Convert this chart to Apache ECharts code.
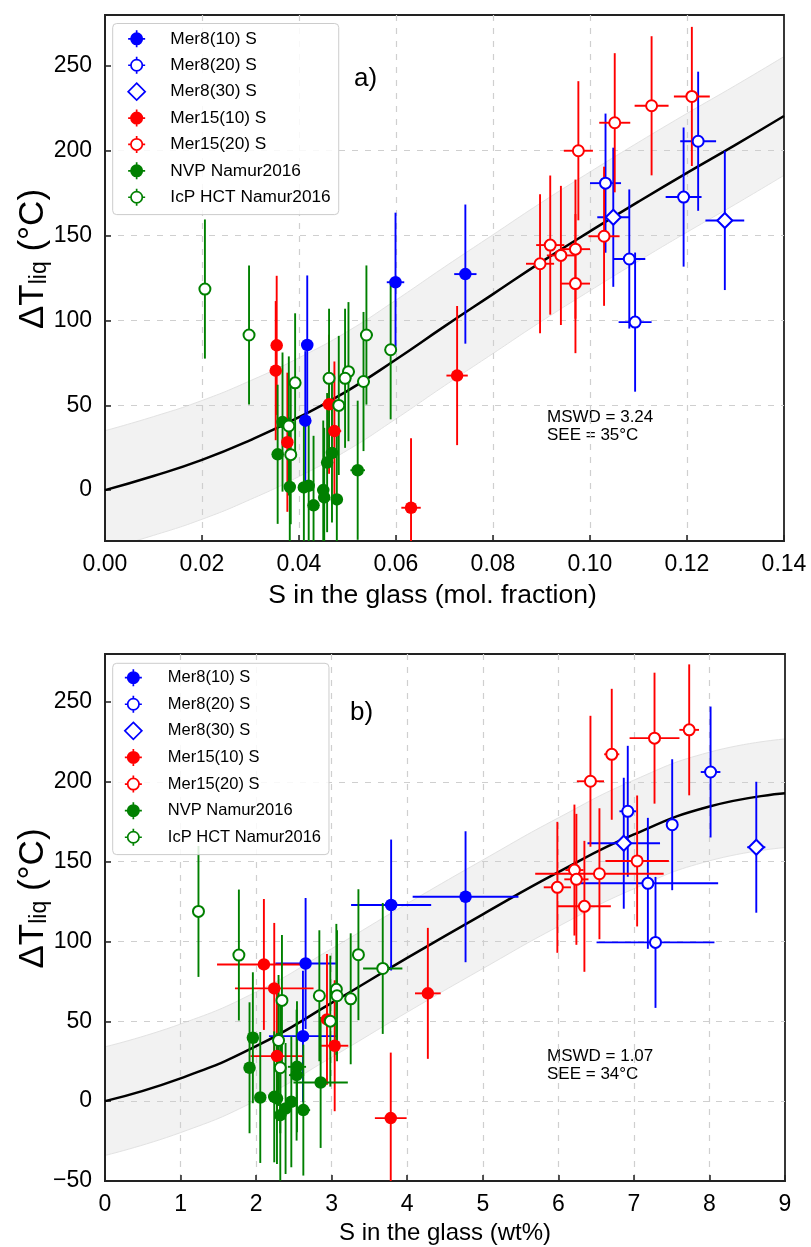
<!DOCTYPE html>
<html><head><meta charset="utf-8">
<script src="https://cdn.jsdelivr.net/npm/echarts@6/dist/echarts.min.js"></script>
<style>html,body{margin:0;padding:0;background:#fff}#c{width:811px;height:1247px}</style>
</head><body><div id="c"></div>
<script>
// ---------- Panel a (S in mol. fraction) : rows [x, y, xErr, yErr] ----------
const a_mer8_10  = [[0.0417,85.5,0.0012,41],[0.0413,40.9,0.0012,41],[0.0599,122.5,0.0018,41],[0.0743,127.3,0.0023,41]];
const a_mer8_20  = [[0.1032,180.9,0.0032,41],[0.1081,136.2,0.0033,41],[0.1093,99.0,0.0034,41],[0.1193,172.7,0.0037,41],[0.1223,205.6,0.0037,41]];
const a_mer8_30  = [[0.1048,160.8,0.0033,41],[0.1278,158.9,0.0040,41]];
const a_mer15_10 = [[0.0354,85.3,0.0011,41],[0.0352,70.4,0.0011,41],[0.0462,50.6,0.0014,41],[0.0473,34.8,0.0014,41],[0.0376,28.2,0.0011,41],[0.0631,-10.4,0.0020,41],[0.0726,67.5,0.0022,41]];
const a_mer15_20 = [[0.0897,133.4,0.0029,41],[0.0918,144.4,0.0029,41],[0.0940,138.3,0.0029,41],[0.0970,142.0,0.0030,41],[0.0970,121.7,0.0030,41],[0.0976,200.0,0.0030,41],[0.1029,149.6,0.0032,41],[0.1051,216.5,0.0032,41],[0.1127,226.5,0.0035,41],[0.1210,232.0,0.0037,41]];
const a_nvp      = [[0.0366,40.1,0.0011,41],[0.0356,21.1,0.0011,41],[0.0468,21.9,0.0012,41],[0.0458,16.2,0.0012,41],[0.0521,11.7,0.0015,41],[0.0381,1.8,0.0011,41],[0.0410,1.6,0.0011,41],[0.0420,2.5,0.0011,41],[0.0450,0.0,0.0012,41],[0.0452,-4.3,0.0012,41],[0.0478,-5.5,0.0012,41],[0.0430,-9.0,0.0011,41]];
const a_icp      = [[0.0206,118.5,0.0008,41],[0.0297,91.4,0.0010,41],[0.0392,63.2,0.0011,41],[0.0462,65.9,0.0012,41],[0.0502,69.8,0.0013,41],[0.0495,65.9,0.0013,41],[0.0533,64.0,0.0013,41],[0.0539,91.4,0.0013,41],[0.0589,82.7,0.0012,41],[0.0482,49.9,0.0012,41],[0.0379,37.8,0.0011,41],[0.0383,20.9,0.0011,41]];
const a_curve_x  = [0,0.01,0.02,0.03,0.04,0.05,0.06,0.07,0.08,0.09,0.10,0.11,0.12,0.13,0.14];
const a_curve_y  = [0,8.3,17.8,29.5,43,58.5,77,96.5,115.5,134.5,152.5,170,187,203.5,220.5];
const a_see = 35;

// ---------- Panel b (S in wt%) : rows [x, y, xErr, yErr] ----------
const b_mer8_10  = [[2.655,86.2,0.40,41],[2.620,40.7,0.45,41],[3.787,122.8,0.53,41],[4.772,128.0,0.70,41]];
const b_mer8_20  = [[6.919,181.5,0.11,41],[7.185,136.4,0.93,41],[7.286,99.4,0.78,41],[7.507,173.1,0.07,41],[8.015,206.1,0.13,41]];
const b_mer8_30  = [[6.866,161.5,0.48,41],[8.620,159.0,0.12,41]];
const b_mer15_10 = [[2.103,85.6,0.62,41],[2.240,70.6,0.52,41],[2.938,51.2,0.10,41],[3.040,34.7,0.18,41],[2.276,28.2,0.35,41],[3.782,-10.6,0.21,41],[4.273,67.5,0.17,41]];
const b_mer15_20 = [[5.987,133.9,0.18,41],[6.213,144.7,0.12,41],[6.544,142.4,0.85,41],[6.239,138.9,0.16,41],[6.345,122.0,0.35,41],[6.425,200.3,0.18,41],[6.707,217.2,0.10,41],[7.043,150.4,0.42,41],[7.273,227.3,0.33,41],[7.732,232.5,0.13,41]];
const b_nvp      = [[1.957,39.7,0.07,41],[1.913,20.9,0.06,41],[2.541,21.5,0.12,41],[2.536,16.3,0.10,41],[2.854,11.7,0.36,41],[2.055,2.3,0.06,41],[2.240,2.7,0.08,41],[2.276,1.7,0.08,41],[2.320,-8.8,0.08,41],[2.390,-4.6,0.08,41],[2.466,-0.4,0.08,41],[2.625,-5.6,0.09,41]];
const b_icp      = [[1.237,118.8,0.075,41],[1.772,91.5,0.05,41],[2.342,63.1,0.07,41],[2.837,66.0,0.07,41],[3.062,70.0,0.07,41],[3.071,66.0,0.07,41],[3.252,64.1,0.07,41],[3.354,91.7,0.07,41],[3.676,83.1,0.26,41],[2.982,50.1,0.07,41],[2.297,38.0,0.06,41],[2.320,20.9,0.06,41]];
const b_curve_x  = [0,1,2,3,4,5,6,7,8,9];
const b_curve_y  = [0,14.3,34.4,61.5,89.7,117,143.4,167,184.5,192.8];
const b_see = 34;

// ---------- tick labels / texts ----------
const a_yticks = [0,50,100,150,200,250];
const b_yticks = [-50,0,50,100,150,200,250];
const seriesNames = ['Mer8(10) S','Mer8(20) S','Mer8(30) S','Mer15(10) S','Mer15(20) S','NVP Namur2016','IcP HCT Namur2016'];

const FONT = 'Liberation Sans, Arial, Helvetica, sans-serif';
const BLUE = '#0000ff', RED = '#ff0000', GREEN = '#008000';

const kinds = [
  {color: BLUE,  open: false, symbol: 'circle'},
  {color: BLUE,  open: true,  symbol: 'circle'},
  {color: BLUE,  open: true,  symbol: 'diamond'},
  {color: RED,   open: false, symbol: 'circle'},
  {color: RED,   open: true,  symbol: 'circle'},
  {color: GREEN, open: false, symbol: 'circle'},
  {color: GREEN, open: true,  symbol: 'circle'}
];
const aSets = [a_mer8_10, a_mer8_20, a_mer8_30, a_mer15_10, a_mer15_20, a_nvp, a_icp];
const bSets = [b_mer8_10, b_mer8_20, b_mer8_30, b_mer15_10, b_mer15_20, b_nvp, b_icp];

function errRender(color) {
  return function (params, api) {
    const x = api.value(0), y = api.value(1), ex = api.value(2), ey = api.value(3);
    const h1 = api.coord([x - ex, y]), h2 = api.coord([x + ex, y]);
    const v1 = api.coord([x, y - ey]), v2 = api.coord([x, y + ey]);
    const cs = params.coordSys;
    const st = {stroke: color, lineWidth: 1.9};
    return {
      type: 'group',
      clipPath: {type: 'rect', shape: {x: cs.x, y: cs.y, width: cs.width, height: cs.height}},
      children: [
        {type: 'line', shape: {x1: h1[0], y1: h1[1], x2: h2[0], y2: h2[1]}, style: st},
        {type: 'line', shape: {x1: v1[0], y1: v1[1], x2: v2[0], y2: v2[1]}, style: st}
      ]
    };
  };
}

function panelSeries(sets, idx, cx, cy, see) {
  const out = [];
  const upper = cx.map((x, i) => [x, cy[i] + see]);
  const lower = cx.map((x, i) => [x, cy[i] - see]);
  out.push({type: 'line', xAxisIndex: idx, yAxisIndex: idx, data: upper,
    smooth: true, showSymbol: false, silent: true, z: -2,
    lineStyle: {color: '#e2e2e2', width: 1}, areaStyle: {color: '#f2f2f2', opacity: 1, origin: 'start'}});
  out.push({type: 'line', xAxisIndex: idx, yAxisIndex: idx, data: lower,
    smooth: true, showSymbol: false, silent: true, z: -1,
    lineStyle: {color: '#e2e2e2', width: 1}, areaStyle: {color: '#ffffff', opacity: 1, origin: 'start'}});
  out.push({type: 'line', xAxisIndex: idx, yAxisIndex: idx, data: cx.map((x, i) => [x, cy[i]]),
    smooth: true, showSymbol: false, silent: true, z: 2,
    lineStyle: {color: '#000', width: 2.5}});
  sets.forEach((set, k) => {
    const kd = kinds[k];
    out.push({type: 'custom', name: seriesNames[k], xAxisIndex: idx, yAxisIndex: idx, data: set, clip: true,
      encode: {x: 0, y: 1}, renderItem: errRender(kd.color), silent: true, z: 3});
    out.push({type: 'scatter', name: seriesNames[k], xAxisIndex: idx, yAxisIndex: idx,
      data: set.map(r => [r[0], r[1]]), symbol: kd.symbol,
      symbolSize: kd.symbol === 'diamond' ? 15 : (kd.open ? 11 : 12.5), silent: true, z: 3,
      itemStyle: kd.open ? {color: '#ffffff', borderColor: kd.color, borderWidth: 2, opacity: 1}
                         : {color: kd.color, borderColor: kd.color, borderWidth: 0, opacity: 1}});
  });
  return out;
}

const ICON_C = 'path://M7.5,0L7.5,2.5M7.5,12.5L7.5,15M0,7.5L2.5,7.5M12.5,7.5L15,7.5M12.5,7.5A5,5,0,1,1,2.5,7.5A5,5,0,1,1,12.5,7.5Z';
const ICON_D = 'path://M7.5,0L15,7.5L7.5,15L0,7.5Z';
function legendData() {
  return seriesNames.map((n, k) => {
    const kd = kinds[k];
    return {name: n, icon: kd.symbol === 'diamond' ? ICON_D : ICON_C,
      itemStyle: {color: kd.open ? '#ffffff' : kd.color, borderColor: kd.color, borderWidth: 1.7, opacity: 1}};
  });
}
function legendOpt(top, padL, textPad, fs, gap, padT, padR) {
  return {orient: 'vertical', left: 112.7, top: top, itemWidth: 24, itemHeight: 17, itemGap: gap,
    selectedMode: false, data: legendData(),
    padding: [padT, padR, 8, padL], backgroundColor: 'rgba(255,255,255,0.85)', borderColor: '#cccccc', borderWidth: 1, borderRadius: 4,
    textStyle: {fontFamily: FONT, fontSize: fs, color: '#000', lineHeight: 17, padding: [0, 0, 0, textPad]}};
}

function yAxisOpt(idx, min, ticks) {
  return {type: 'value', gridIndex: idx, min: min, max: 280,
    name: '{a|ΔT}{s|liq}{a| (°C)}', nameLocation: 'middle', nameRotate: 90, nameGap: 54, nameMoveOverlap: false,
    nameTextStyle: {fontFamily: FONT, color: '#000', fontSize: 35, padding: [0, 0, 0, 38],
      rich: {a: {fontFamily: FONT, fontSize: 35, color: '#000', verticalAlign: 'top', lineHeight: 35},
             s: {fontFamily: FONT, fontSize: 23, color: '#000', verticalAlign: 'bottom', lineHeight: 23, padding: [16, 0, 0, 0]}}},
    axisLine: {show: true, onZero: false, lineStyle: {color: '#222', width: 1.8}},
    axisTick: {show: true, inside: true, length: 6, customValues: ticks, lineStyle: {color: '#222', width: 1.5}},
    axisLabel: {customValues: ticks, margin: 13, fontFamily: FONT, fontSize: 23, color: '#000',
      formatter: v => String(v).replace('-', '\u2212')},
    splitLine: {show: true, showMinLine: false, showMaxLine: false, lineStyle: {color: '#cfcfcf', width: 1.2, type: [6, 7]}}};
}
function xAxisOpt(idx, max, interval, name, gap, fmt, fs, pad) {
  return {type: 'value', gridIndex: idx, min: 0, max: max, interval: interval,
    name: name, nameLocation: 'middle', nameGap: gap, nameMoveOverlap: false,
    nameTextStyle: {fontFamily: FONT, fontSize: fs, color: '#000', padding: pad},
    axisLine: {show: true, onZero: false, lineStyle: {color: '#222', width: 1.8}},
    axisTick: {show: true, inside: true, length: 6, lineStyle: {color: '#222', width: 1.5}},
    axisLabel: {margin: 12, fontFamily: FONT, fontSize: 23, color: '#000', formatter: fmt},
    splitLine: {show: true, showMinLine: false, showMaxLine: false, lineStyle: {color: '#cfcfcf', width: 1.2, type: [6, 7]}}};
}

const chart = echarts.init(document.getElementById('c'), null, {renderer: 'canvas'});
chart.setOption({
  animation: false,
  backgroundColor: '#ffffff',
  grid: [
    {left: 105, top: 15, width: 679, height: 526, show: true, borderColor: '#222', borderWidth: 1.8, backgroundColor: 'transparent',
     containLabel: false, outerBoundsMode: 'none'},
    {left: 105, top: 654, width: 680, height: 527, show: true, borderColor: '#222', borderWidth: 1.8, backgroundColor: 'transparent',
     containLabel: false, outerBoundsMode: 'none'}
  ],
  xAxis: [
    xAxisOpt(0, 0.14, 0.02, 'S in the glass (mol. fraction)', 41, v => v.toFixed(2), 26.5, [0, 24, 0, 0]),
    xAxisOpt(1, 9, 1, 'S in the glass (wt%)', 40, v => String(Math.round(v)), 24, [0, 0, 0, 0])
  ],
  yAxis: [yAxisOpt(0, -30, a_yticks), yAxisOpt(1, -50, b_yticks)],
  legend: [legendOpt(23.5, 14.6, 16.7, 17.3, 7.7, 6, 8), legendOpt(663.3, 11.3, 17.5, 16.5, 7.9, 5, 8)],
  graphic: [
    {type: 'text', left: 354, top: 66, style: {text: 'a)', font: '26px ' + FONT, fill: '#000'}},
    {type: 'text', left: 350, top: 700, style: {text: 'b)', font: '26px ' + FONT, fill: '#000'}},
    {type: 'text', left: 547, top: 408, style: {text: 'MSWD = 3.24\nSEE = 35°C', font: '17px ' + FONT, fill: '#000', lineHeight: 18}},
    {type: 'text', left: 547, top: 1047, style: {text: 'MSWD = 1.07\nSEE = 34°C', font: '17px ' + FONT, fill: '#000', lineHeight: 18}}
  ],
  series: [].concat(panelSeries(aSets, 0, a_curve_x, a_curve_y, a_see), panelSeries(bSets, 1, b_curve_x, b_curve_y, b_see))
});
</script></body></html>
